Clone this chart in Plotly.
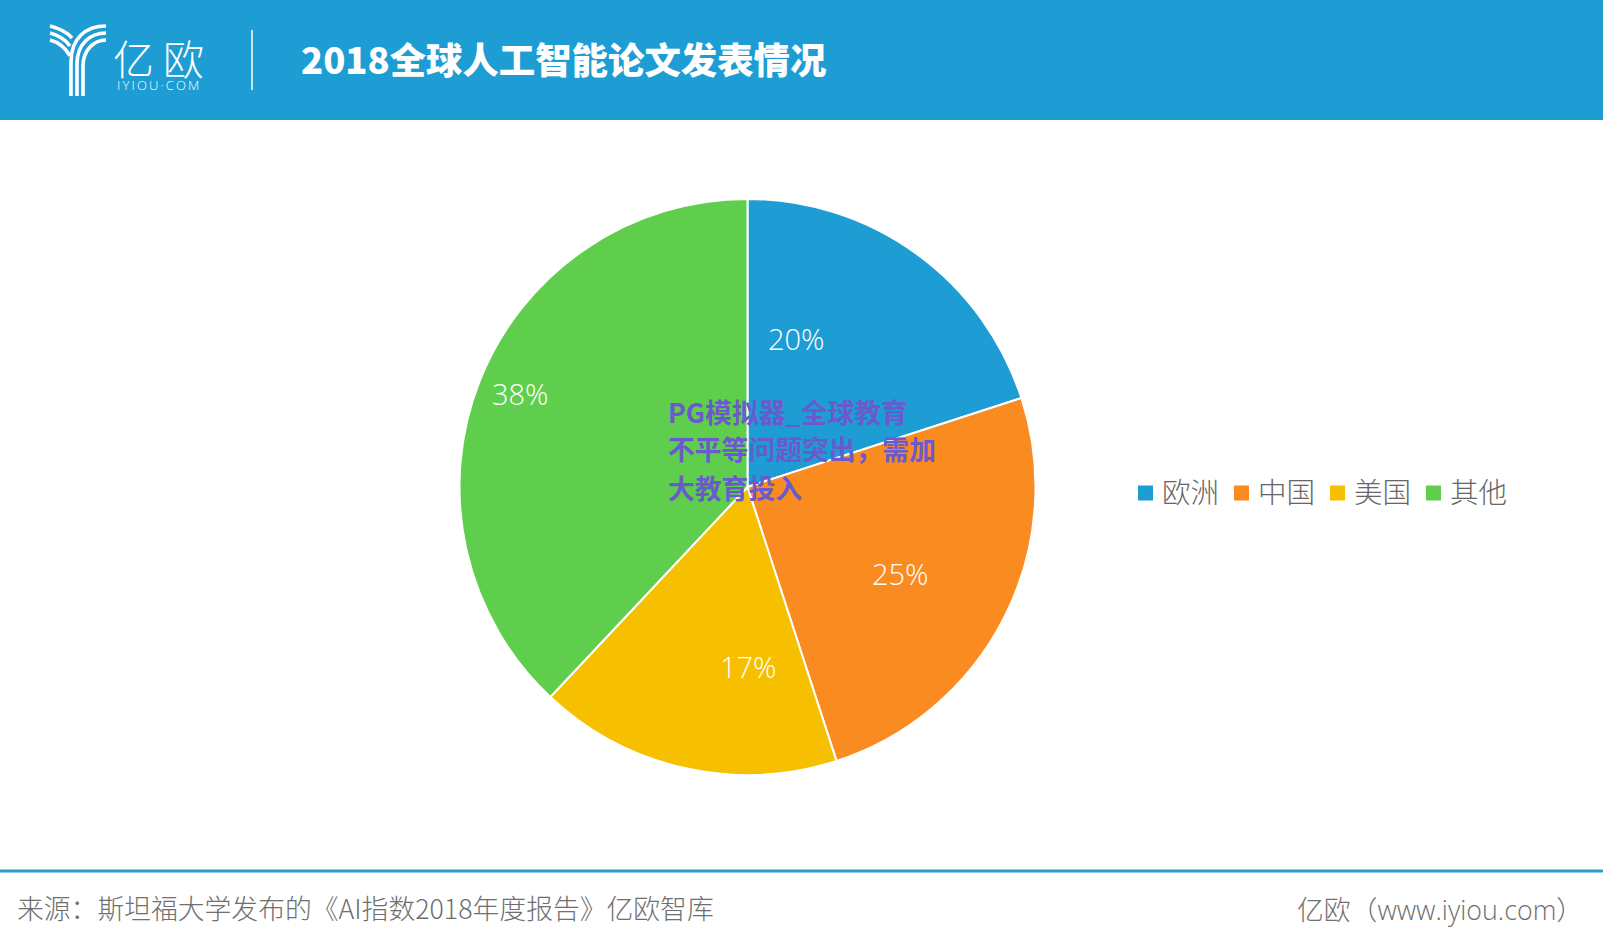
import plotly.graph_objects as go

W, H = 1603, 948

regions = ["欧洲", "中国", "美国", "其他"]
shares = [20, 25, 17, 38]
colors = ["#1e9dd4", "#f98b21", "#f6c000", "#5fce4c"]

title_text = "2018全球人工智能论文发表情况"
source_text = "来源：斯坦福大学发布的《AI指数2018年度报告》亿欧智库"
site_text = "亿欧（www.iyiou.com）"
logo_sub = "\u2009".join("IYIOU·COM")
overlay_lines = ["PG模拟器_全球教育", "不平等问题突出，需加", "大教育投入"]

# where the percent labels and the legend items sit, in page pixels
label_xy = [(796, 338), (900, 573), (748, 666), (520, 393)]
legend_swatch_x = [1138, 1234, 1330, 1426]
legend_text_x = [1160, 1256, 1352, 1448]
legend_y = 493

CJK = "Noto Sans CJK SC"
BLUE = "#1e9dd4"


def px(x):
    return x / W


def py(y):
    return 1 - y / H


def note(text, x, y, size, color, anchor="left", font=CJK, weight=300):
    return dict(text=text, x=px(x), y=py(y), xref="paper", yref="paper", showarrow=False,
                xanchor=anchor, yanchor="middle",
                font=dict(family=font, size=size, color=color, weight=weight))


def logo_path(*segments):
    # segments are (command, x, y, x, y, ...) in page pixels
    path = ""
    for seg in segments:
        path += seg[0] + " "
        for i in range(1, len(seg), 2):
            path += "%.5f,%.5f " % (px(seg[i]), py(seg[i + 1]))
    return path


fig = go.Figure(go.Pie(
    labels=regions, values=shares, sort=False, direction="clockwise", rotation=0,
    marker=dict(colors=colors, line=dict(color="white", width=2)),
    textinfo="none", showlegend=False,
    domain=dict(x=[px(747.5 - 288), px(747.5 + 288)], y=[py(487 + 288), py(487 - 288)]),
    hoverinfo="label+percent",
))

shapes = [
    dict(type="rect", xref="paper", yref="paper", x0=0, x1=1, y0=py(120), y1=1,
         fillcolor=BLUE, line_width=0, layer="below"),
    dict(type="line", xref="paper", yref="paper", x0=px(252), x1=px(252), y0=py(30), y1=py(90),
         line=dict(color="white", width=1.5)),
    dict(type="line", xref="paper", yref="paper", x0=0, x1=1, y0=py(871), y1=py(871),
         line=dict(color="#2a9cc8", width=3)),
]

# logo strokes
logo_strokes = [
    [("M", 106, 26), ("C", 86, 26, 71, 38, 71, 62), ("L", 71, 96)],
    [("M", 106, 33), ("C", 90, 33, 77, 44, 77, 64), ("L", 77, 96)],
    [("M", 106, 40), ("C", 94, 40, 83, 50, 83, 66), ("L", 83, 96)],
    [("M", 50, 26), ("C", 58, 28, 66, 31, 72, 38)],
    [("M", 50, 33), ("C", 58, 35, 65, 39, 70, 46)],
    [("M", 50, 40), ("C", 58, 42, 65, 47, 70, 56)],
]
for stroke in logo_strokes:
    shapes.append(dict(type="path", xref="paper", yref="paper", path=logo_path(*stroke),
                       line=dict(color="white", width=3.6)))

annotations = [
    note("亿", 111, 57, 41, "white"),
    note("欧", 161, 57, 41, "white"),
    note(logo_sub, 115, 85, 13, "white", font="Open Sans"),
    note(title_text, 299, 58, 36.4, "white", weight=900),
    note(source_text, 15, 907, 26.8, "#6f6f6f"),
    note(site_text, 1295, 909, 26.8, "#6f6f6f", font="Open Sans, " + CJK),
]

for share, (x, y) in zip(shares, label_xy):
    annotations.append(note("%d%%" % share, x, y, 29, "white", anchor="center", font="Open Sans"))

for name, color, sx, tx in zip(regions, colors, legend_swatch_x, legend_text_x):
    shapes.append(dict(type="rect", xref="paper", yref="paper", x0=px(sx), x1=px(sx + 15),
                       y0=py(legend_y + 7.5), y1=py(legend_y - 7.5), fillcolor=color, line_width=0))
    annotations.append(note(name, tx, legend_y - 3, 28.5, "#666666"))

for line, y in zip(overlay_lines, [411, 449, 487]):
    annotations.append(note("<b>%s</b>" % line, 666, y, 26.8, "#6a5acd", weight=700))

fig.update_layout(
    width=W, height=H, margin=dict(l=0, r=0, t=0, b=0),
    paper_bgcolor="white", plot_bgcolor="white",
    shapes=shapes, annotations=annotations,
)

fig.write_html("out.html", config=dict(displayModeBar=False),
               post_script="document.body.style.margin='0';")
